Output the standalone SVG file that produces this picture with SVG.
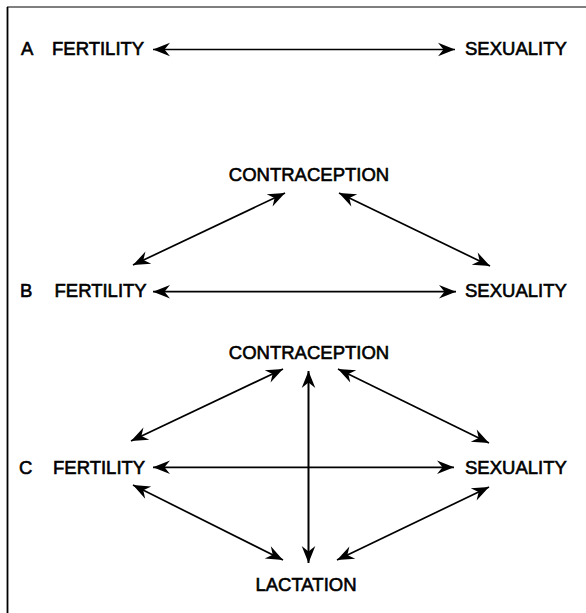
<svg xmlns="http://www.w3.org/2000/svg" width="586" height="613" viewBox="0 0 586 613">
<style>
text{font-family:"Liberation Sans",Arial,sans-serif;font-size:18.5px;fill:#000;stroke:#000;stroke-width:0.6}
.c{text-anchor:middle}
.ln{stroke:#000;stroke-width:1.7;fill:none;marker-start:url(#ah);marker-end:url(#ah)}
</style>
<defs>
<marker id="ah" viewBox="-18 -8 19 16" refX="0" refY="0" markerWidth="19" markerHeight="16" markerUnits="userSpaceOnUse" orient="auto-start-reverse">
<path d="M0,0 L-17,-6.8 L-11.5,0 L-17,6.8 Z" fill="#000"/>
</marker>
</defs>
<g id="frame">
<line x1="7" y1="7" x2="586" y2="7" stroke="#555" stroke-width="1.6"/>
<line x1="7.5" y1="7" x2="7.5" y2="613" stroke="#000" stroke-width="1.8"/>
</g>
<g id="connectors">
<line class="ln" x1="153" y1="49.5" x2="455" y2="49.5"/>
<line class="ln" x1="133" y1="265" x2="285" y2="193"/>
<line class="ln" x1="339" y1="193" x2="490" y2="266"/>
<line class="ln" x1="153" y1="291.7" x2="456" y2="291.7"/>
<line class="ln" x1="131" y1="441" x2="283" y2="369"/>
<line class="ln" x1="338" y1="369" x2="489" y2="443"/>
<line class="ln" x1="308.5" y1="371" x2="308.5" y2="563" style="stroke-width:2"/>
<line class="ln" x1="153" y1="467.3" x2="454" y2="467.3"/>
<line class="ln" x1="133" y1="485" x2="283" y2="560"/>
<line class="ln" x1="489" y1="487" x2="337" y2="560"/>
</g>
<g id="labelA"><text x="21" y="54.5">A</text></g>
<g id="fertilityA"><text x="52" y="54.5">FERTILITY</text></g>
<g id="sexualityA"><text x="465" y="54.5">SEXUALITY</text></g>
<g id="contraceptionB"><text class="c" x="309" y="181">CONTRACEPTION</text></g>
<g id="labelB"><text x="20" y="296.7">B</text></g>
<g id="fertilityB"><text x="54.5" y="296.7">FERTILITY</text></g>
<g id="sexualityB"><text x="465" y="296.7">SEXUALITY</text></g>
<g id="contraceptionC"><text class="c" x="309" y="359">CONTRACEPTION</text></g>
<g id="labelC"><text x="19" y="473.5">C</text></g>
<g id="fertilityC"><text x="53" y="473.5">FERTILITY</text></g>
<g id="sexualityC"><text x="465" y="473.5">SEXUALITY</text></g>
<g id="lactationC"><text class="c" x="306" y="591">LACTATION</text></g>
</svg>
